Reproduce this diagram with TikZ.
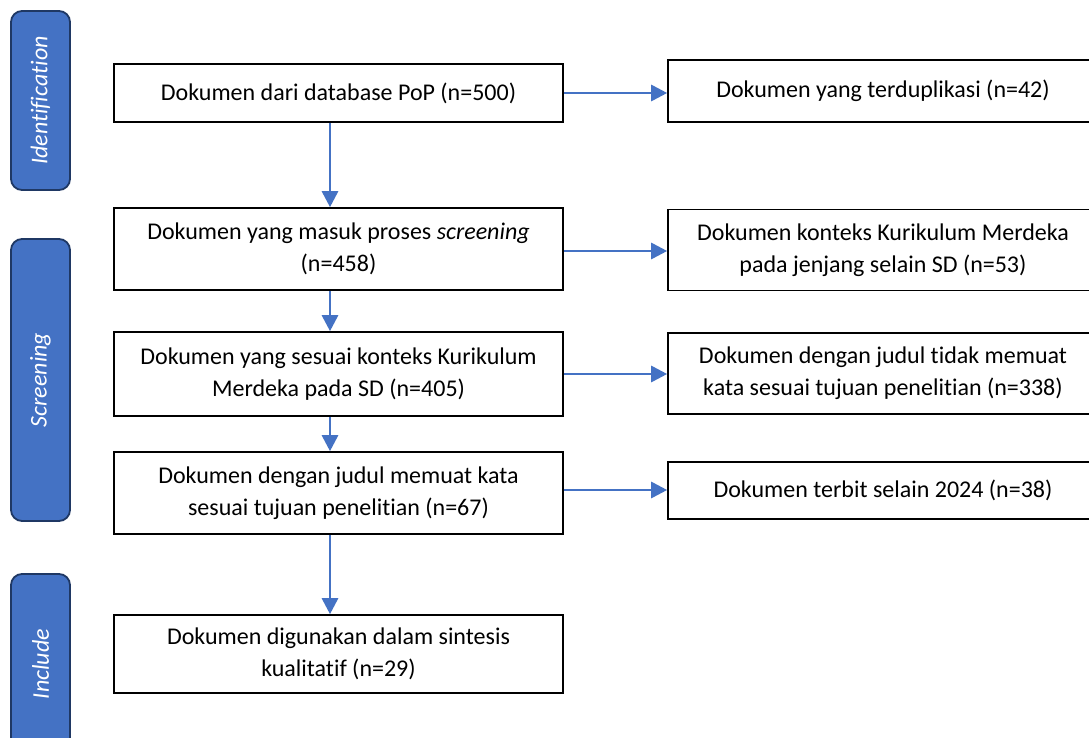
\documentclass[tikz,border=0pt]{standalone}
\usepackage{fontspec}
\setmainfont{Carlito}[RawFeature={-liga;-clig;-calt;-dlig}]
\usetikzlibrary{arrows.meta}
\definecolor{obox}{HTML}{4472C4}
\definecolor{oedge}{HTML}{1F3864}
\tikzset{
  flowbox/.style={draw=black, line width=1.6pt, fill=white, align=center,
    font=\fontsize{24}{32}\selectfont, inner sep=0pt},
  phase/.style={draw=oedge, line width=1.8pt, fill=obox, rounded corners=11pt,
    text=white, font=\fontsize{24}{30}\selectfont\itshape, inner sep=0pt},
  phasetext/.style={rotate=90, text=white, font=\fontsize{24}{30}\selectfont\itshape},
  arr/.style={draw=obox, line width=2.8pt, -{Triangle[length=16pt,width=16pt]}}
}
\begin{document}
\begin{tikzpicture}[x=1pt,y=-1pt]
\useasboundingbox (0,0) rectangle (1089,738);
\clip (0,0) rectangle (1089,738);
\fill[white] (0,0) rectangle (1089,738);
% phase labels
\node[phase, minimum width=59pt, minimum height=179pt] (pid) at (40.5,100.5) {};
\node[phasetext] (tid) at (pid.center) {Identification};
\node[phase, minimum width=59pt, minimum height=282pt] (psc) at (40.5,380) {};
\node[phasetext] (tsc) at (psc.center) {Screening};
\node[phase, minimum width=59pt, minimum height=190pt] (pin) at (40.5,669) {};
\node[phasetext] (tin) at (40.5,664) {Include};
% left column
\node[flowbox, minimum width=449pt, minimum height=58pt] (b1) at (338.5,93) {Dokumen dari database PoP (n=500)};
\node[flowbox, minimum width=449pt, minimum height=82pt] (b2) at (338.5,249) {Dokumen yang masuk proses \textit{screening}\\(n=458)};
\node[flowbox, minimum width=449pt, minimum height=84pt] (b3) at (338.5,374) {Dokumen yang sesuai konteks Kurikulum\\Merdeka pada SD (n=405)};
\node[flowbox, minimum width=449pt, minimum height=82pt] (b4) at (338.5,493) {Dokumen dengan judul memuat kata\\sesuai tujuan penelitian (n=67)};
\node[flowbox, minimum width=449pt, minimum height=78pt] (b5) at (338.5,654) {Dokumen digunakan dalam sintesis\\kualitatif (n=29)};
% right column
\node[flowbox, minimum width=430pt, minimum height=62pt] (r1) at (883,91) {Dokumen yang terduplikasi (n=42)};
\node[flowbox, minimum width=430pt, minimum height=81pt] (r2) at (883,250) {Dokumen konteks Kurikulum Merdeka\\pada jenjang selain SD (n=53)};
\node[flowbox, minimum width=430pt, minimum height=81pt] (r3) at (883,373.5) {Dokumen dengan judul tidak memuat\\kata sesuai tujuan penelitian (n=338)};
\node[flowbox, minimum width=430pt, minimum height=57pt] (r4) at (883,490.5) {Dokumen terbit selain 2024 (n=38)};
% horizontal arrows
\draw[arr] (b1.east) -- (b1.east -| r1.west);
\draw[arr] ([yshift=-2pt]b2.east) -- ([yshift=-2pt]b2.east -| r2.west);
\draw[arr] (b3.east) -- (b3.east -| r3.west);
\draw[arr] ([yshift=3pt]b4.east) -- ([yshift=3pt]b4.east -| r4.west);
% vertical arrows
\draw[arr] ([xshift=-8.5pt]b1.south) -- ([xshift=-8.5pt]b2.north);
\draw[arr] ([xshift=-8.5pt]b2.south) -- ([xshift=-8.5pt]b3.north);
\draw[arr] ([xshift=-8.5pt]b3.south) -- ([xshift=-8.5pt]b4.north);
\draw[arr] ([xshift=-8.5pt]b4.south) -- ([xshift=-8.5pt]b5.north);
\end{tikzpicture}
\end{document}
